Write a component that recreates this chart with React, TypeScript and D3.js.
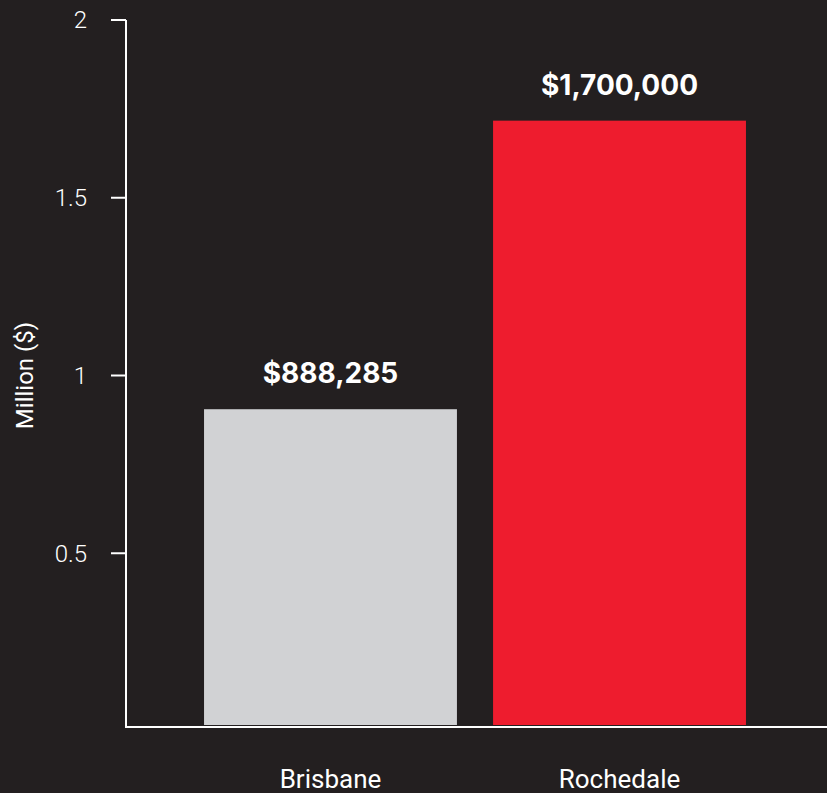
import React from "react";
import * as d3 from "d3";

const categories = ["Brisbane", "Rochedale"];
const values = [888285, 1700000];
const valueLabels = ["$888,285", "$1,700,000"];
const barColors = ["#d1d2d4", "#ee1c2e"];
const yTicks = [0.5, 1, 1.5, 2];
const yTickLabels = ["0.5", "1", "1.5", "2"];
const yTitle = "Million ($)";

const W = 827;
const H = 793;
const BG = "#231f20";
const FG = "#ffffff";

export default function App() {
  const x = d3.scaleBand<string>().domain(categories).range([126, 824]).paddingInner(0.125).paddingOuter(0.27);
  const y = d3.scaleLinear().domain([0, 2]).range([731, 20]);
  const yBar = y.copy().range([725, 14]);
  const axisFont = "Roboto, 'Noto Sans', sans-serif";
  return (
    <svg width={W} height={H} style={{ position: "absolute", left: 0, top: 0, display: "block" }}>
      <rect x={0} y={0} width={W} height={H} fill={BG} />
      {categories.map((c, i) => {
        const v = values[i] / 1e6;
        const x0 = x(c)!;
        const top = yBar(v);
        return (
          <g key={c}>
            <rect x={x0} y={top} width={x.bandwidth()} height={yBar(0) - top} fill={barColors[i]} />
            <text x={x0 + x.bandwidth() / 2} y={top - 26} textAnchor="middle" fill={FG}
              fontFamily="Inter, sans-serif" fontWeight={700} fontSize={28}>{valueLabels[i]}</text>
            <text x={x0 + x.bandwidth() / 2} y={788} textAnchor="middle" fill={FG}
              fontFamily={axisFont} fontSize={26}>{c}</text>
          </g>
        );
      })}
      <line x1={126} x2={126} y1={y(2)} y2={728} stroke={FG} strokeWidth={2} />
      <line x1={125} x2={W} y1={727} y2={727} stroke={FG} strokeWidth={2} />
      {yTicks.map((t, i) => (
        <g key={t}>
          <line x1={111} x2={126} y1={y(t)} y2={y(t)} stroke={FG} strokeWidth={2} />
          <text x={87} y={y(t)} dy="0.35em" textAnchor="end" fill={FG} fontFamily={axisFont}
            fontWeight={300} fontSize={24}>{yTickLabels[i]}</text>
        </g>
      ))}
      <text transform={`translate(33, ${y(1)}) rotate(-90)`} textAnchor="middle" fill={FG}
        fontFamily={axisFont} fontSize={24}>{yTitle}</text>
    </svg>
  );
}
